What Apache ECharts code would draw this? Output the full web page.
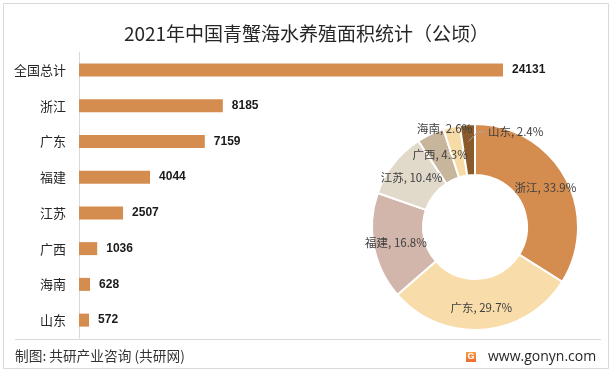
<!DOCTYPE html>
<html><head><meta charset="utf-8">
<script src="https://cdn.jsdelivr.net/npm/echarts@6/dist/echarts.min.js"></script>
<style>html,body{margin:0;padding:0;background:#fff}#c{width:613px;height:372px}</style>
</head><body><div id="c"></div>
<script>
const titleText = '2021年中国青蟹海水养殖面积统计（公顷）';
const categories = ['全国总计', '浙江', '广东', '福建', '江苏', '广西', '海南', '山东'];
const areaValues = [24131, 8185, 7159, 4044, 2507, 1036, 628, 572];
const provinces = ['浙江', '广东', '福建', '江苏', '广西', '海南', '山东'];
const provinceValues = [8185, 7159, 4044, 2507, 1036, 628, 572];
const sliceColors = ['#D58C4F', '#F8DCA9', '#D3B6AB', '#E1DACB', '#C8B69C', '#F7DBA7', '#8B5A2B'];
const footerLeft = '制图: 共研产业咨询 (共研网)';
const footerRight = 'www.gonyn.com';

const CJK = '"Noto Sans CJK SC", "Noto Sans", sans-serif';
const chart = echarts.init(document.getElementById('c'), null, { renderer: 'canvas' });

const pieCenter = [475, 227];
const pieRadius = [52, 103];
const provinceTotal = provinceValues.reduce((a, b) => a + b, 0);
const lastLabelPos = [488, 132];

const pieData = provinces.map((n, i) => {
  const d = { name: n, value: provinceValues[i], itemStyle: { color: sliceColors[i] } };
  if (n === '海南') d.label = { offset: [-12, -20] };
  return d;
});

// point inside a slice at radius r along its mid-angle (clockwise from 12 o'clock)
function sliceMidPoint(idx, r) {
  let before = 0;
  for (let i = 0; i < idx; i++) before += provinceValues[i];
  const frac = (before + provinceValues[idx] / 2) / provinceTotal;
  const a = frac * 2 * Math.PI;
  return [pieCenter[0] + r * Math.sin(a), pieCenter[1] - r * Math.cos(a)];
}
const leadStart = sliceMidPoint(6, 86);

chart.setOption({
  backgroundColor: '#fff',
  animation: false,
  title: {
    text: titleText, left: 'center', top: 19,
    textStyle: { fontFamily: CJK, fontSize: 19, fontWeight: 'normal', color: '#262626' }
  },
  grid: { left: 79, top: 52, width: 424, height: 286, containLabel: false },
  xAxis: { type: 'value', min: 0, max: 24131, show: false, splitLine: { show: false } },
  yAxis: {
    type: 'category', data: categories, inverse: true,
    axisLine: { show: true, lineStyle: { color: '#d9d9d9', width: 1 } },
    axisTick: { show: false },
    axisLabel: { fontFamily: CJK, fontSize: 13, color: '#262626', margin: 13 }
  },
  series: [
    {
      type: 'bar', data: areaValues, barWidth: 13,
      itemStyle: { color: '#D58C4F' },
      label: {
        show: true, position: 'right', distance: 9,
        fontFamily: '"Liberation Sans", Arial, sans-serif', fontWeight: 'bold', fontSize: 12, color: '#1a1a1a'
      }
    },
    {
      type: 'pie', center: pieCenter, radius: pieRadius, startAngle: 90, clockwise: true,
      itemStyle: { borderColor: '#fff', borderWidth: 2 },
      label: {
        show: true, position: 'inside',
        formatter: p => p.name + ', ' + (p.value / provinceTotal * 100).toFixed(1) + '%',
        fontFamily: CJK, fontSize: 11.5, color: '#404040'
      },
      labelLine: { show: false },
      labelLayout: function (p) {
        if (p.dataIndex === 6) {
          return { x: lastLabelPos[0], y: lastLabelPos[1], align: 'left', verticalAlign: 'middle' };
        }
        return {};
      },
      data: pieData
    }
  ],
  graphic: [
    { type: 'rect', shape: { x: 3.5, y: 3.5, width: 605, height: 365 }, style: { fill: 'none', stroke: '#d9d9d9', lineWidth: 1 }, silent: true },
    { type: 'line', shape: { x1: 15, y1: 339.5, x2: 601, y2: 339.5 }, style: { stroke: '#d9d9d9', lineWidth: 1 }, silent: true },
    { type: 'polyline', z: 100, silent: true,
      shape: { points: [leadStart, [lastLabelPos[0] - 10, lastLabelPos[1]], [lastLabelPos[0] - 3, lastLabelPos[1]]] },
      style: { stroke: '#a6a6a6', lineWidth: 1, fill: 'none' } },
    { type: 'text', left: 15, top: 349, style: { text: footerLeft, font: '13.7px "Noto Sans CJK SC", sans-serif', fill: '#333' } },
    { type: 'rect', shape: { x: 466, y: 352, width: 10, height: 10 }, style: { fill: new echarts.graphic.LinearGradient(0, 0, 0, 1, [{ offset: 0, color: '#F7A04A' }, { offset: 1, color: '#EE6A2C' }]) } },
    { type: 'text', x: 471, y: 357, style: { text: 'G', font: 'bold 9px "Liberation Sans", sans-serif', fill: '#fff', align: 'center', verticalAlign: 'middle' } },
    { type: 'text', x: 488, y: 357, style: { text: footerRight, font: '14px "Open Sans", "Noto Sans", sans-serif', fill: '#262626', verticalAlign: 'middle' } }
  ]
});
</script></body></html>
